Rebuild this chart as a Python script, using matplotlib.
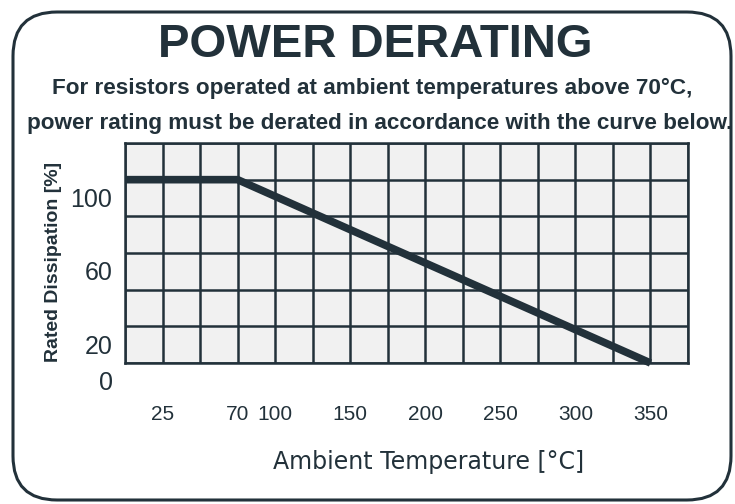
import numpy as np
import matplotlib
matplotlib.use("Agg")
import matplotlib.pyplot as plt
import matplotlib.transforms as mtransforms
from matplotlib.patches import FancyBboxPatch

# Данные кривой снижения мощности
curve_temp = [0, 70, 350]
curve_power = [100, 100, 0]

# Подписи осей
x_ticks = [25, 70, 100, 150, 200, 250, 300, 350]
y_ticks = [0, 20, 60, 100]

# Схематическая шкала температуры (как на картинке, столбцы сетки)
scale_temp = [0, 25, 70, 100, 375]
scale_col = [0, 1, 3, 4, 15]


def fwd(t):
    return np.interp(t, scale_temp, scale_col)


def inv(c):
    return np.interp(c, scale_col, scale_temp)


ink = "#22313a"
arial = "Liberation Sans"

fig = plt.figure(figsize=(7.35, 5.04), dpi=100)
fig.patch.set_facecolor("white")

# Рамка с закруглёнными углами
box = FancyBboxPatch((13 / 735, 4 / 504), 718 / 735, 488 / 504,
                     boxstyle="round,pad=0,rounding_size=0.06",
                     transform=fig.transFigure, fill=False,
                     edgecolor=ink, linewidth=2.2, mutation_aspect=735 / 504)
fig.patches.append(box)

ax = fig.add_axes([125 / 735, 141 / 504, 563 / 735, 220 / 504])
ax.set_facecolor("#f1f1f1")
ax.set_xscale("function", functions=(fwd, inv))
ax.set_xlim(0, 375)
ax.set_ylim(0, 120)

ax.set_xticks(x_ticks)
ax.set_xticklabels([str(t) for t in x_ticks])
ax.set_xticks(inv(np.arange(16)), minor=True)
ax.set_yticks(y_ticks)
ax.set_yticklabels([str(v) for v in y_ticks])
ax.set_yticks(np.arange(0, 121, 20), minor=True)

ax.grid(which="both", color=ink, linewidth=1.8)
ax.set_axisbelow(True)
ax.tick_params(which="both", length=0)
ax.tick_params(axis="x", pad=30, labelsize=15, colors=ink)
ax.tick_params(axis="y", pad=9, labelsize=18, colors=ink)
for lab in ax.get_xticklabels() + ax.get_yticklabels():
    lab.set_family(arial)
offset = mtransforms.ScaledTranslation(0, -0.18, fig.dpi_scale_trans)
for lab in ax.get_yticklabels():
    lab.set_transform(lab.get_transform() + offset)
for s in ax.spines.values():
    s.set_color(ink)
    s.set_linewidth(1.8)

# Кривая
ax.plot(curve_temp, curve_power, color=ink, linewidth=5.5,
        solid_capstyle="butt", clip_on=False)

fig.text(429 / 735, 1 - 462 / 504, "Ambient Temperature [\u00b0C]",
         ha="center", va="center", fontsize=17, color=ink)
fig.text(54 / 735, 1 - 262 / 504, "Rated Dissipation [%]", rotation=90,
         ha="center", va="center", fontsize=14, fontweight="bold",
         color=ink, family=arial)

fig.text(375 / 735, 1 - 45 / 504, "POWER DERATING", ha="center", va="center",
         fontsize=34, fontweight="bold", color=ink, family=arial)
fig.text(372 / 735, 1 - 88 / 504,
         "For resistors operated at ambient temperatures above 70\u00b0C,",
         ha="center", va="center", fontsize=16.2, color=ink,
         family=arial, fontweight="bold")
fig.text(380 / 735, 1 - 123 / 504,
         "power rating must be derated in accordance with the curve below.",
         ha="center", va="center", fontsize=16.2, color=ink,
         family=arial, fontweight="bold")

fig.savefig("out.png", dpi=100)
